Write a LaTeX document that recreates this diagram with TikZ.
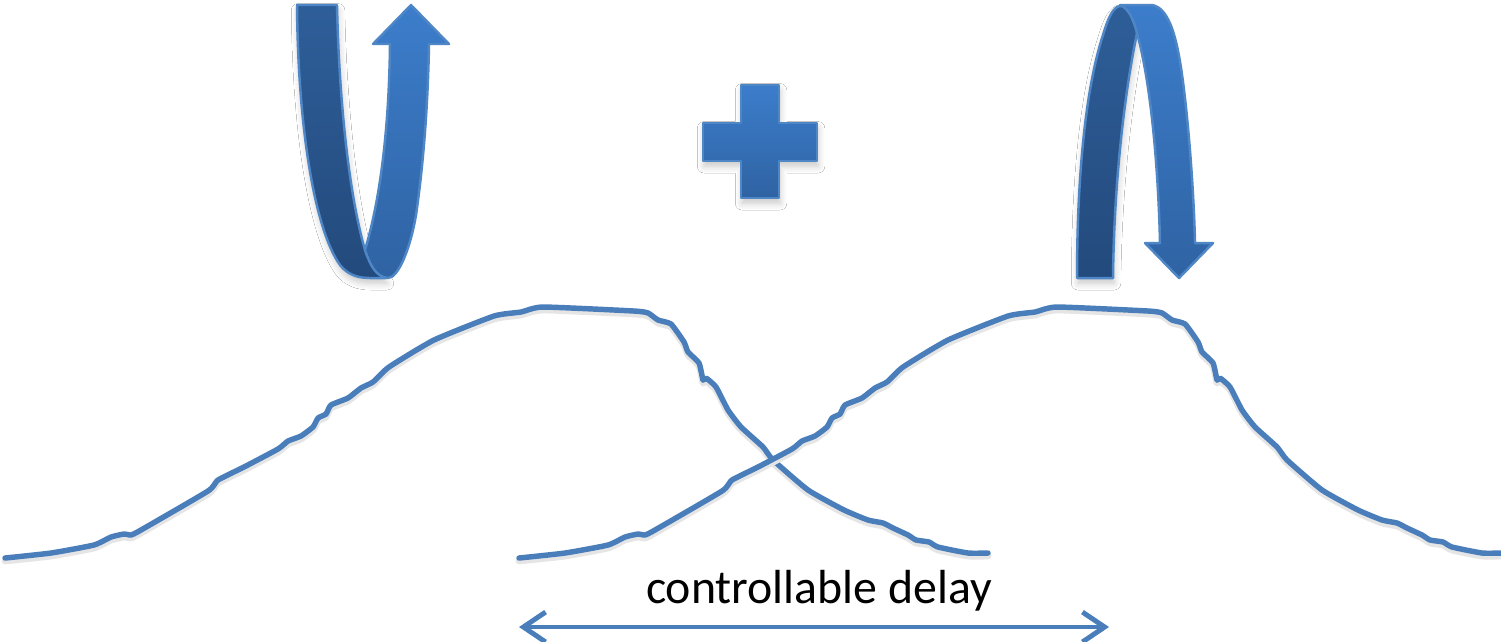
\documentclass[tikz,border=0pt]{standalone}
\usepackage{fontspec}
\setmainfont{Carlito}
\usetikzlibrary{arrows.meta,shadows.blur}
\definecolor{lineblue}{HTML}{4A7EBB}
\definecolor{edgeblue}{HTML}{4F86C6}
\definecolor{darktop}{HTML}{2E5E99}
\definecolor{darkbot}{HTML}{234A7C}
\definecolor{lighttop}{HTML}{3C7DCB}
\definecolor{lightbot}{HTML}{2F63A3}
\tikzset{
  bellcurve/.style={draw=lineblue, line width=1.55pt, line join=round, line cap=round},
  bellshadow/.style={draw=black!10, line width=1.9pt, line join=round, line cap=round},
  darkband/.style={top color=darktop, bottom color=darkbot, draw=edgeblue, line width=0.7pt, line join=round},
  lightband/.style={top color=lighttop, bottom color=lightbot, draw=edgeblue, line width=0.7pt, line join=round},
  softshadow/.style={blur shadow={shadow xshift=0.3pt, shadow yshift=-1.5pt, shadow blur steps=6, shadow opacity=22}},
  delayarrow/.style={draw=lineblue, line width=1.4pt, {Straight Barb[length=6.3pt,width=8.5pt]}-{Straight Barb[length=6.3pt,width=8.5pt]}},
  lbl/.style={font=\fontsize{13.6}{16}\selectfont, text=black, inner sep=0pt}
}
\begin{document}
\begin{tikzpicture}[x=0.01cm,y=-0.01cm]
\useasboundingbox (0,0) rectangle (1501,641);
\fill[white] (0,0) rectangle (1501,641);

% ---- two bell curves (same shape, shifted) ----
\foreach \s in {0,514} {
  \begin{scope}[shift={(\s,0)}]
  \foreach \sty/\dy in {bellshadow/3,bellcurve/0} {
  \draw[\sty, shift={(1,\dy)}] plot[smooth, tension=0.3] coordinates {
    (4,558) (50,553) (93,545) (110,537) (123,534) (130,535) (140,530)
    (207,491) (217,480) (243,467) (277,449) (287,441) (300,436) (312,427)
    (317,418) (325,414) (330,405) (347,398) (360,388) (372,382) (388,367)
    (433,340) (493,316) (520,312) (542,307) (633,311) (647,313) (657,320)
    (670,324) (683,342) (687,352) (698,363) (702,380) (705,378) (715,387)
    (727,410) (740,427) (762,447) (772,460) (807,490) (843,510) (867,520)
    (882,523) (892,528) (907,535) (915,540) (928,542) (937,547) (967,553)
    (987,553)};
  }
  \end{scope}
}

% ---- left arrow: U-turn going up ----
\path[darkband, softshadow]
  (297,5) .. controls (298,130) and (315,230) .. (340,265)
  .. controls (348,275) and (358,278) .. (370,278) -- (386,278) -- (365,250)
  .. controls (349,195) and (339,100) .. (337,5) -- cycle;
\path[lightband]
  (390,44) .. controls (389,130) and (380,200) .. (365,250)
  .. controls (370,265) and (376,277) .. (388,278)
  .. controls (398,278) and (410,250) .. (416,215)
  .. controls (424,160) and (428,100) .. (429,44)
  -- (449,44) -- (411,5) -- (373,44) -- cycle;

% ---- plus sign ----
\path[lightband, softshadow]
  (741,85) -- (779,85) -- (779,123) -- (817,123) -- (817,161) -- (779,161)
  -- (779,198) -- (741,198) -- (741,161) -- (703,161) -- (703,123) -- (741,123) -- cycle;

% ---- right arrow: arch going down ----
\path[darkband, softshadow]
  (1077,278) .. controls (1077,180) and (1085,90) .. (1103,35)
  .. controls (1108,18) and (1113,7) .. (1120,6)
  .. controls (1128,5) and (1135,15) .. (1137,33)
  .. controls (1125,90) and (1114,180) .. (1113,278) -- cycle;
\path[lightband]
  (1160,243) .. controls (1158,160) and (1150,80) .. (1137,33)
  .. controls (1133,18) and (1128,8) .. (1120,5) -- (1152,5)
  .. controls (1170,8) and (1178,40) .. (1184,90)
  .. controls (1190,140) and (1194,200) .. (1195,243)
  -- (1213,243) -- (1179,278) -- (1145,243) -- cycle;

% ---- controllable delay ----
\node[lbl, anchor=base] (delaytext) at (819,603) {controllable delay};
\coordinate (dL) at (519,627);
\coordinate (dR) at (1109,627);
\draw[delayarrow] (dL) -- (dR);
\end{tikzpicture}
\end{document}
